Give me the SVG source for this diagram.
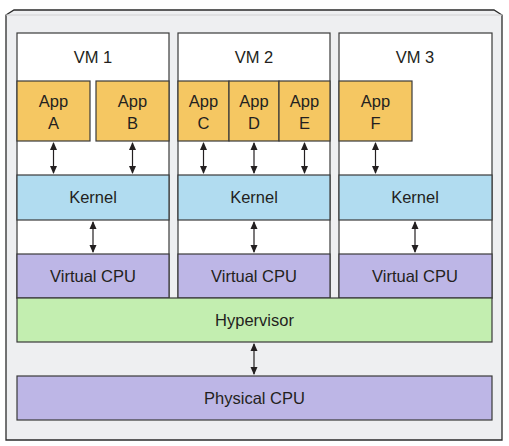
<svg xmlns="http://www.w3.org/2000/svg" width="509" height="446" viewBox="0 0 509 446">
<defs>
<marker id="ah" viewBox="0 0 8 10" refX="7" refY="5" markerWidth="8" markerHeight="10" markerUnits="userSpaceOnUse" orient="auto-start-reverse">
<path d="M0,1.5 L8,5 L0,8.5 Z" fill="#231f20"/>
</marker>
</defs>
<style>
text{font-family:"Liberation Sans",Arial,sans-serif;font-size:16.5px;fill:#231f20;text-anchor:middle}
.vm{fill:#ffffff;stroke:#3a3a3a;stroke-width:1.2}
.app{fill:#f5c762;stroke:#3a3a3a;stroke-width:1.2}
.ker{fill:#b1dcf0;stroke:#3a3a3a;stroke-width:1.2}
.cpu{fill:#bdb6e6;stroke:#3a3a3a;stroke-width:1.2}
.hyp{fill:#c3eeb0;stroke:#3a3a3a;stroke-width:1.2}
.conn line{stroke:#231f20;stroke-width:1.2;marker-start:url(#ah);marker-end:url(#ah)}
</style>
<g id="host">
<polygon points="6,15 14,10 494,10 502,15 502,440 6,440" fill="#eeeff1" stroke="#2b2b2b" stroke-width="1.3"/>
<line x1="6" y1="15" x2="502" y2="15" stroke="#d0d0d2" stroke-width="1"/>
</g>
<g id="vm1">
<rect class="vm" x="17" y="33" width="152" height="265"/>
<text x="93" y="63">VM 1</text>
</g>
<g id="vm2">
<rect class="vm" x="178" y="33" width="152" height="265"/>
<text x="254" y="63">VM 2</text>
</g>
<g id="vm3">
<rect class="vm" x="339" y="33" width="153" height="265"/>
<text x="415" y="63">VM 3</text>
</g>
<g id="appA"><rect class="app" x="17" y="81" width="73" height="60"/><text x="53.5" y="107">App</text><text x="53.5" y="129">A</text></g>
<g id="appB"><rect class="app" x="96" y="81" width="73" height="60"/><text x="132.5" y="107">App</text><text x="132.5" y="129">B</text></g>
<g id="appC"><rect class="app" x="178" y="81" width="51" height="60"/><text x="203.5" y="107">App</text><text x="203.5" y="129">C</text></g>
<g id="appD"><rect class="app" x="229" y="81" width="50" height="60"/><text x="254" y="107">App</text><text x="254" y="129">D</text></g>
<g id="appE"><rect class="app" x="279" y="81" width="51" height="60"/><text x="304.5" y="107">App</text><text x="304.5" y="129">E</text></g>
<g id="appF"><rect class="app" x="339" y="81" width="73" height="60"/><text x="375.5" y="107">App</text><text x="375.5" y="129">F</text></g>
<g id="kernel1"><rect class="ker" x="17" y="175" width="152" height="45"/><text x="93" y="203">Kernel</text></g>
<g id="kernel2"><rect class="ker" x="178" y="175" width="152" height="45"/><text x="254" y="203">Kernel</text></g>
<g id="kernel3"><rect class="ker" x="339" y="175" width="153" height="45"/><text x="415" y="203">Kernel</text></g>
<g id="vcpu1"><rect class="cpu" x="17" y="254" width="152" height="44"/><text x="93" y="282">Virtual CPU</text></g>
<g id="vcpu2"><rect class="cpu" x="178" y="254" width="152" height="44"/><text x="254" y="282">Virtual CPU</text></g>
<g id="vcpu3"><rect class="cpu" x="339" y="254" width="153" height="44"/><text x="415" y="282">Virtual CPU</text></g>
<g id="hypervisor"><rect class="hyp" x="17" y="298" width="475" height="44"/><text x="254.5" y="326">Hypervisor</text></g>
<g id="physical"><rect class="cpu" x="17" y="376" width="475" height="44"/><text x="254.5" y="404">Physical CPU</text></g>
<g id="connectors" class="conn">
<line x1="53.5" y1="143" x2="53.5" y2="173"/>
<line x1="132.5" y1="143" x2="132.5" y2="173"/>
<line x1="203.5" y1="143" x2="203.5" y2="173"/>
<line x1="254" y1="143" x2="254" y2="173"/>
<line x1="304.5" y1="143" x2="304.5" y2="173"/>
<line x1="375.5" y1="143" x2="375.5" y2="173"/>
<line x1="93" y1="222" x2="93" y2="252"/>
<line x1="254" y1="222" x2="254" y2="252"/>
<line x1="415" y1="222" x2="415" y2="252"/>
<line x1="254" y1="344" x2="254" y2="374"/>
</g>
</svg>
